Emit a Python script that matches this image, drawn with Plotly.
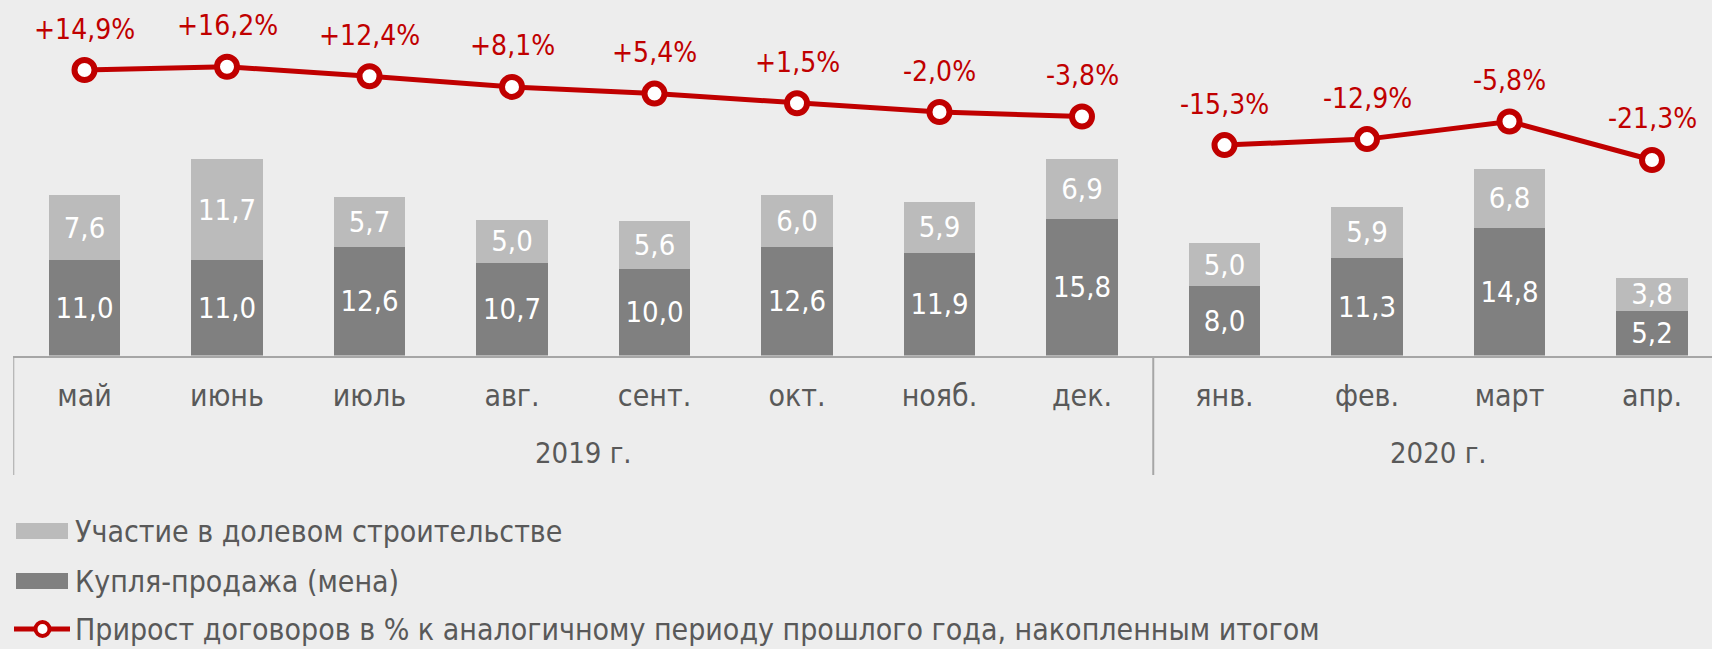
import plotly.graph_objects as go

# Monthly contracts (thousands) and cumulative year-on-year growth, %
years = ["2019 г."] * 8 + ["2020 г."] * 4
months = ["май", "июнь", "июль", "авг.", "сент.", "окт.", "нояб.", "дек.",
          "янв.", "фев.", "март", "апр."]
purchase = [11.0, 11.0, 12.6, 10.7, 10.0, 12.6, 11.9, 15.8, 8.0, 11.3, 14.8, 5.2]
equity = [7.6, 11.7, 5.7, 5.0, 5.6, 6.0, 5.9, 6.9, 5.0, 5.9, 6.8, 3.8]
growth = [14.9, 16.2, 12.4, 8.1, 5.4, 1.5, -2.0, -3.8, -15.3, -12.9, -5.8, -21.3]

name_equity = "Участие в долевом строительстве"
name_purchase = "Купля-продажа (мена)"
name_growth = "Прирост договоров в % к аналогичному периоду прошлого года, накопленным итогом"

W, H = 1712, 649
BG = "#EDEDED"
LIGHT = "#BBBBBB"
DARK = "#808080"
RED = "#C00000"
TXT = "#595959"
AXIS = "#A6A6A6"
FONT = "DejaVu Sans Condensed, DejaVu Sans, sans-serif"

# pixel layout of the plotting area
x_left = 13.25          # left edge of the category axis
step = 142.5            # width of one category
baseline = 355.5        # y pixel of the bar baseline
px_per_unit = 8.64      # bar scale
g_ref_val, g_ref_px, g_px_per_unit = 14.9, 70.0, 2.486  # growth-line scale

x_dom0 = x_left / W
x_range = [-0.5, -0.5 + (W - x_left) / step]
y_dom0 = 1 - baseline / H
y_range = [0, baseline / px_per_unit]
y2_range = [g_ref_val - (baseline - g_ref_px) / g_px_per_unit,
            g_ref_val + g_ref_px / g_px_per_unit]


def paper_y(px):
    return 1 - px / H


fig = go.Figure()

bar_common = dict(
    x=months, width=0.5, textposition="inside", insidetextanchor="middle",
    texttemplate="%{y:.1f}", textangle=0, constraintext="none",
    insidetextfont=dict(family=FONT, size=29, color="white"),
    hoverinfo="skip", showlegend=False,
)
fig.add_trace(go.Bar(y=purchase, name=name_purchase, marker=dict(color=DARK, line=dict(width=0)), **bar_common))
fig.add_trace(go.Bar(y=equity, name=name_equity, marker=dict(color=LIGHT, line=dict(width=0)), **bar_common))

# growth line, drawn separately for each year
for yr in ["2019 г.", "2020 г."]:
    idx = [i for i, y in enumerate(years) if y == yr]
    fig.add_trace(go.Scatter(
        x=[months[i] for i in idx], y=[growth[i] for i in idx], yaxis="y2",
        mode="lines+markers", name=name_growth, showlegend=False, hoverinfo="skip",
        line=dict(color=RED, width=5),
        marker=dict(size=20, color="white", line=dict(color=RED, width=6)),
    ))

annotations = []
for m, g in zip(months, growth):
    annotations.append(dict(
        x=m, y=g, xref="x", yref="y2", yshift=41, showarrow=False,
        text=f"{g:+.1f}%".replace(".", ","),
        font=dict(family=FONT, size=28, color=RED),
    ))

# year group labels
for yr in ["2019 г.", "2020 г."]:
    idx = [i for i, y in enumerate(years) if y == yr]
    annotations.append(dict(
        x=(idx[0] + idx[-1]) / 2, y=paper_y(453), xref="x", yref="paper",
        yanchor="middle", showarrow=False, text=yr,
        font=dict(family=FONT, size=29, color=TXT),
    ))

shapes = []
# group dividers below the axis
for b in [-0.5, years.index("2020 г.") - 0.5]:
    shapes.append(dict(type="line", xref="x", yref="paper", x0=b, x1=b,
                       y0=paper_y(475), y1=paper_y(356), line=dict(color=AXIS, width=2)))

# legend
leg_x0, leg_x1, leg_text_x = 16, 68, 73
legend_rows = [(531, name_equity, LIGHT), (581, name_purchase, DARK), (629, name_growth, None)]
for cy, label, col in legend_rows:
    if col:
        shapes.append(dict(type="rect", xref="paper", yref="paper",
                           x0=leg_x0 / W, x1=leg_x1 / W, y0=paper_y(cy + 8), y1=paper_y(cy - 8),
                           fillcolor=col, line=dict(width=0)))
    else:
        shapes.append(dict(type="line", xref="paper", yref="paper",
                           x0=14 / W, x1=70 / W, y0=paper_y(cy), y1=paper_y(cy),
                           line=dict(color=RED, width=5)))
        shapes.append(dict(type="circle", xref="paper", yref="paper",
                           x0=(42.5 - 7) / W, x1=(42.5 + 7) / W, y0=paper_y(cy + 7), y1=paper_y(cy - 7),
                           fillcolor="white", line=dict(color=RED, width=4)))
    annotations.append(dict(
        x=leg_text_x / W, y=paper_y(cy), xref="paper", yref="paper",
        xanchor="left", yanchor="middle", showarrow=False, text=label,
        font=dict(family=FONT, size=30, color=TXT),
    ))

fig.update_layout(
    width=W, height=H, margin=dict(l=0, r=0, t=0, b=0),
    paper_bgcolor=BG, plot_bgcolor=BG, barmode="stack", separators=", ",
    showlegend=False, shapes=shapes, annotations=annotations,
    xaxis=dict(domain=[x_dom0, 1], range=x_range, type="category",
               showgrid=False, zeroline=False, showline=True, linecolor=AXIS, linewidth=2,
               ticks="", ticklabelstandoff=12,
               tickfont=dict(family=FONT, size=30, color=TXT)),
    yaxis=dict(domain=[y_dom0, 1], range=y_range, visible=False),
    yaxis2=dict(domain=[y_dom0, 1], range=y2_range, overlaying="y", visible=False),
)

fig.write_html("out.html")
